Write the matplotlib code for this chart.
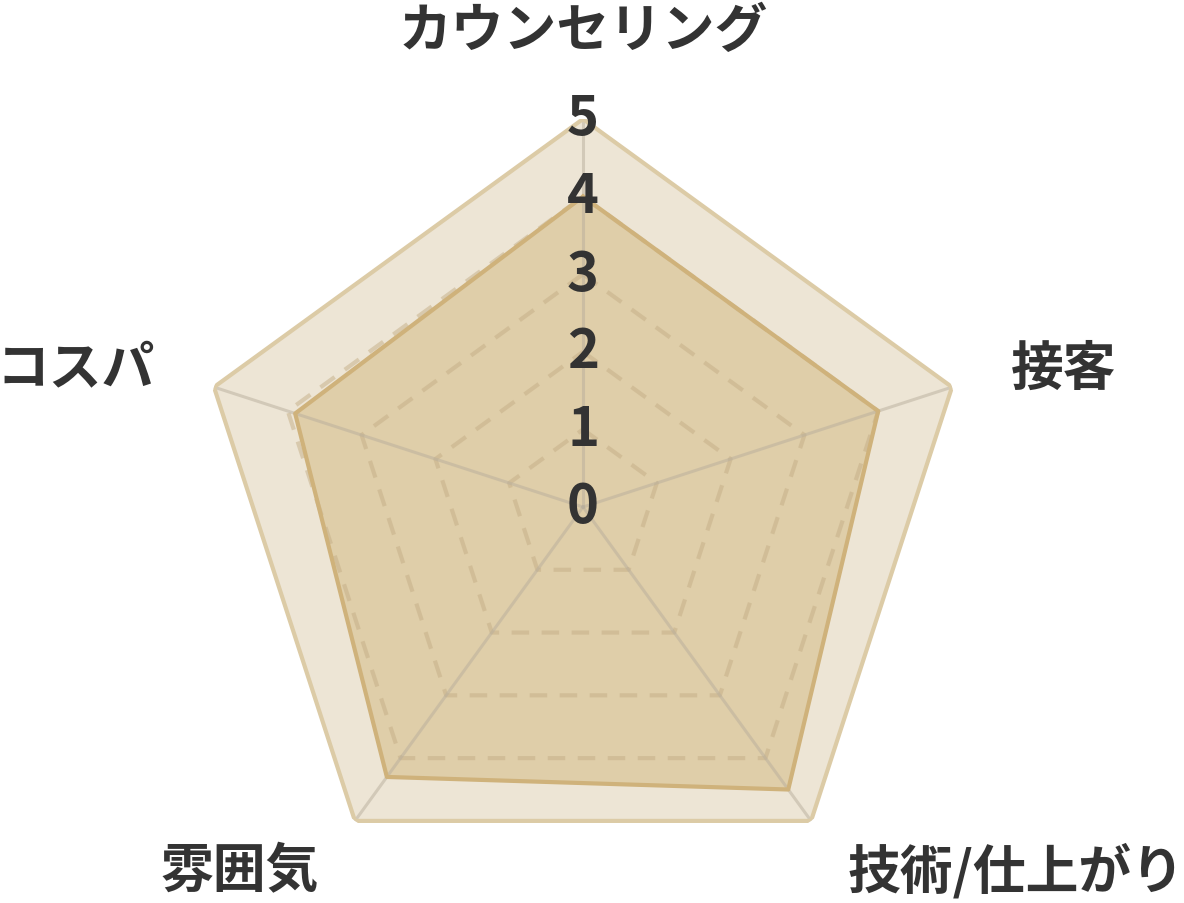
import numpy as np
import matplotlib
matplotlib.use('Agg')
import matplotlib.pyplot as plt

plt.rcParams['font.family'] = ['Noto Sans CJK JP', 'DejaVu Sans']

categories = ['カウンセリング', '接客', '技術/仕上がり', '雰囲気', 'コスパ']
scores = [4.0, 4.0, 4.5, 4.3, 3.9]
max_score = 5
ticks = [0, 1, 2, 3, 4, 5]

n = len(categories)
angles = np.linspace(0, 2 * np.pi, n, endpoint=False)
closed = np.append(angles, angles[0])

fig = plt.figure(figsize=(11.84, 9.04), dpi=100)
ax = fig.add_axes([195 / 1184, 8 / 904, 776 / 1184, 776 / 904], projection='polar')
ax.set_theta_offset(np.pi / 2)
ax.set_theta_direction(-1)
ax.set_ylim(0, max_score)
ax.axis('off')

# outer band (max score)
outer = [max_score] * (n + 1)
ax.fill(closed, outer, color='#ede5d5', zorder=1)
ax.plot(closed, outer, color='#dccba6', lw=3, zorder=4)

# data
vals = scores + scores[:1]
ax.fill(closed, vals, color='#dfcea9', zorder=2)
ax.plot(closed, vals, color='#cfb27b', lw=3, zorder=5)

# dashed rings
for t in ticks[1:-1]:
    ax.plot(closed, [t] * (n + 1), color='#c4ae86', alpha=0.5, lw=3,
            dashes=(4.2, 3), zorder=3)

# spokes
for a in angles:
    ax.plot([a, a], [0, max_score], color='#b8ae9c', alpha=0.5, lw=2.2, zorder=3)

# tick labels
for t in ticks:
    ax.text(0, t, str(t), ha='center', va='center', fontsize=39,
            fontweight='bold', color='#333333', zorder=6)

# category labels
label_r = 5.8
for a, c in zip(angles, categories):
    deg = np.degrees(a)
    if deg == 0:
        ha, va = 'center', 'bottom'
    elif deg < 180:
        ha, va = 'left', 'center'
    else:
        ha, va = 'right', 'center'
    ax.text(a, label_r, c, ha=ha, va=va, fontsize=38, fontweight='bold',
            color='#333333', clip_on=False)

fig.savefig('out.png', dpi=100)
